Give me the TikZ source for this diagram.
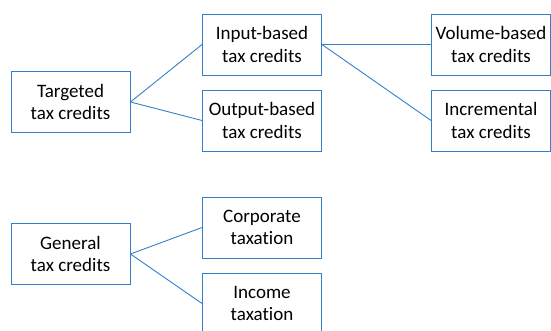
\documentclass[tikz,border=0pt]{standalone}
\usepackage{fontspec}
\setmainfont{Carlito}[Ligatures=NoCommon]
\definecolor{boxblue}{RGB}{52,128,200}

\begin{document}
\begin{tikzpicture}[x=1pt,y=-1pt,draw=boxblue,line width=0.9pt]
    \tikzstyle{box}=[draw,rectangle,fill=white,minimum width=119pt,minimum height=61pt,inner sep=0pt,align=center,font=\fontsize{19}{22.5}\selectfont]
    \tikzstyle{link}=[line width=0.9pt]
    \useasboundingbox (0,0) rectangle (551,331);
    \path
    % Targeted branch
    (70.5,102)  node[box] (targeted) {Targeted\\tax credits}
    (262,44.5)  node[box] (inputbased) {Input-based\\tax credits}
    (262,120.5) node[box] (outputbased) {Output-based\\tax credits}

    % Input-based subtypes
    (491,44.5)  node[box] (volumebased) {Volume-based\\tax credits}
    (491,120.5) node[box] (incremental) {Incremental\\tax credits}

    % General branch
    (70.5,254)  node[box] (general) {General\\tax credits}
    (262,227.5) node[box] (corporate) {Corporate\\taxation}
    (262,303.5) node[box] (income) {Income\\taxation};

    % Link the different parts of the graph
    \draw[link] (targeted.east)--(inputbased.west);
    \draw[link] (targeted.east)--(outputbased.west);
    \draw[link] (inputbased.east)--(volumebased.west);
    \draw[link] (inputbased.east)--(incremental.west);
    \draw[link] (general.east)--(corporate.west);
    \draw[link] (general.east)--(income.west);
\end{tikzpicture}
\end{document}
